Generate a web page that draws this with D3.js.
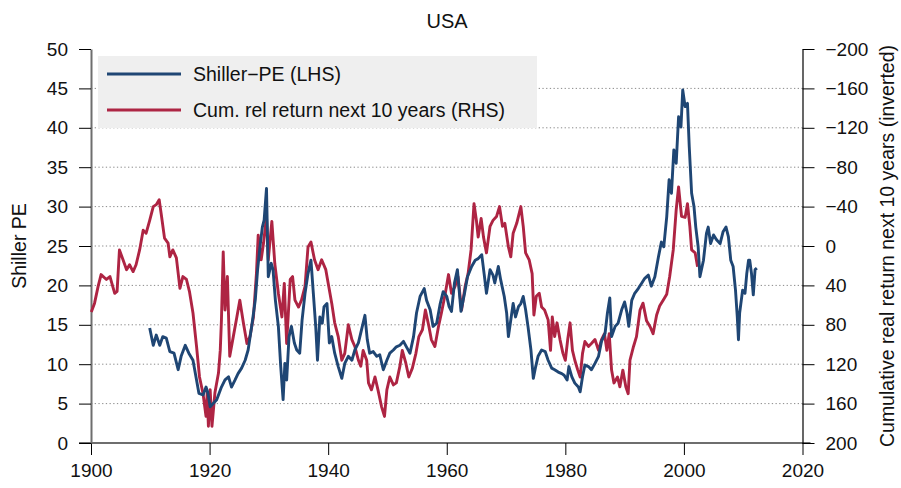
<!DOCTYPE html>
<html>
<head>
<meta charset="utf-8">
<script src="https://cdn.jsdelivr.net/npm/d3@7"></script>
<style type="text/css">
body{
	margin: 0;
	background: #fff;
	font-family: "Liberation Sans", Arial, Helvetica, sans-serif;
}
.axis text{
	font-size: 19px;
	fill: #111;
}
.axis line{
	stroke: #000;
}
.grid line{
	stroke: #8a8a8a;
	stroke-dasharray: 1.3,2.4;
}
path.line{
	fill: none;
	stroke-width: 2.9px;
	stroke-linejoin: round;
}
</style>
</head>
<body>
<div class="viz"></div>
<script type="text/javascript">
// Shiller PE (left axis)
var peYears = [1909.9,1910.5,1911.0,1911.6,1912.1,1912.7,1913.3,1914.0,1914.7,1915.2,1915.9,1916.5,1917.2,1917.8,1918.2,1918.9,1919.4,1919.7,
	1920.1,1920.6,1921.2,1922.0,1922.6,1923.2,1923.7,1924.3,1924.8,1925.4,1926.0,1926.5,1927.1,1927.7,1928.1,1928.5,1928.9,1929.2,1929.6,1929.9,
	1930.4,1930.7,1931.1,1931.6,1932.0,1932.4,1932.7,1933.0,1933.4,1933.8,1934.3,1934.7,1935.2,1935.6,1936.1,1936.6,1937.1,1937.5,1937.9,1938.2,1938.6,1939.0,1939.3,1939.8,
	1940.2,1940.6,1941.1,1941.7,1942.3,1942.8,1943.4,1944.0,1944.5,1945.1,1945.6,1946.2,1946.6,1947.0,1947.6,1948.2,1948.7,1949.3,1949.9,
	1950.4,1951.0,1951.5,1952.1,1952.7,1953.2,1953.8,1954.4,1954.9,1955.5,1956.2,1956.6,1957.2,1957.7,1958.3,1958.9,1959.4,1960.0,
	1960.4,1960.8,1961.3,1961.8,1962.4,1963.0,1963.5,1964.2,1964.8,1965.3,1965.9,1966.3,1966.7,1967.3,1967.8,1968.1,1968.7,1969.1,1969.7,
	1970.1,1970.4,1970.8,1971.2,1971.6,1972.1,1972.5,1972.9,1973.3,1973.7,1974.2,1974.6,1975.0,1975.4,1976.0,1976.6,1977.1,1977.7,1978.2,1978.8,1979.4,1979.8,
	1980.3,1980.6,1981.1,1981.6,1982.2,1982.5,1982.9,1983.3,1983.9,1984.4,1985.0,1985.6,1986.1,1986.7,1987.1,1987.5,1987.8,1988.4,1988.9,1989.5,
	1990.0,1990.4,1990.7,1991.2,1991.7,1992.3,1992.9,1993.4,1994.0,1994.5,1995.1,1995.7,1996.2,1996.6,1997.1,1997.5,1997.9,1998.3,1998.7,1999.1,1999.5,1999.8,
	2000.2,2000.6,2000.9,2001.3,2001.7,2002.0,2002.4,2002.7,2003.3,2003.8,2004.1,2004.5,2005.0,2005.5,2006.1,2006.6,2007.1,2007.5,2007.9,2008.3,2008.7,2009.0,2009.2,2009.4,2009.9,
	2010.3,2010.6,2010.9,2011.1,2011.4,2011.7,2012.0,2012.3];
var peValues = [14.6,12.4,13.7,12.4,13.5,13.3,11.6,11.4,9.3,11.0,12.4,11.4,10.5,8.0,6.3,6.1,7.1,6.4,
	4.6,5.0,5.5,7.1,8.0,8.4,7.1,8.0,8.8,9.5,10.5,11.8,14.8,18.1,22.0,24.9,27.4,28.3,32.3,21.1,
	22.8,22.0,18.1,14.8,9.7,5.5,10.1,8.0,13.5,14.8,12.7,11.8,11.4,15.6,19.0,21.5,23.2,19.0,14.8,10.5,16.0,15.2,17.3,17.7,
	12.7,13.5,11.4,9.7,8.2,10.1,11.0,10.5,11.8,12.7,14.3,16.2,13.1,11.4,11.6,11.0,11.2,9.3,10.5,
	11.4,11.8,12.2,12.4,12.9,12.2,11.4,13.5,16.5,18.6,19.6,18.1,16.9,14.8,15.2,17.7,19.2,18.6,
	17.3,16.7,20.3,22.0,16.7,19.0,21.1,22.4,23.2,23.4,23.9,21.5,19.0,22.0,21.3,20.3,22.4,20.7,18.6,
	16.5,13.5,15.6,17.7,16.0,17.3,17.7,18.6,16.9,14.8,11.8,8.2,9.7,11.0,11.8,11.6,10.5,9.5,9.3,9.0,8.8,8.6,
	8.0,9.7,8.4,7.6,7.1,6.5,8.4,9.9,9.7,9.3,10.1,11.0,12.9,13.9,16.5,18.4,13.5,14.8,15.2,16.9,
	17.9,16.5,14.8,18.1,19.0,19.6,20.3,20.9,21.3,19.9,21.1,23.6,25.5,24.9,28.7,33.4,31.7,37.2,35.5,41.4,40.1,44.8,
	42.7,43.1,37.6,31.7,30.0,27.4,24.9,21.1,23.2,26.6,27.4,25.3,26.4,25.8,25.3,26.8,27.4,26.2,23.2,22.4,19.4,16.0,13.1,16.5,19.4,
	19.0,21.5,23.2,23.2,21.5,18.8,22.0,22.2];

// cumulative real return next 10 years (right axis, inverted)
var retYears = [1900.05,1900.6,1901.2,1901.7,1902.6,1903.2,1904.0,1904.4,1904.8,1905.4,1906.0,1906.5,1907.1,1907.6,1908.2,1908.8,1909.3,1909.9,
	1910.5,1911.0,1911.5,1911.9,1912.4,1913.0,1913.3,1913.8,1914.4,1915.0,1915.5,1916.1,1916.6,1917.2,1917.8,1918.3,1918.9,1919.4,1919.6,1919.8,
	1920.1,1920.4,1920.9,1921.5,1921.8,1922.0,1922.3,1922.6,1923.0,1923.4,1924.0,1924.6,1925.1,1925.7,1926.3,1926.8,1927.4,1927.9,1928.2,1928.7,1929.1,1929.6,1929.9,
	1930.5,1931.0,1931.6,1932.2,1932.6,1933.0,1933.6,1934.0,1934.4,1935.0,1935.5,1936.1,1936.6,1937.1,1937.7,1938.3,1938.9,1939.6,
	1940.1,1940.6,1941.1,1941.7,1942.3,1942.8,1943.4,1944.0,1944.5,1945.1,1945.5,1945.9,1946.5,1946.8,1947.3,1947.9,1948.4,1949.0,1949.5,1949.9,
	1950.4,1951.0,1951.5,1952.1,1952.5,1953.1,1953.6,1954.2,1954.8,1955.3,1955.9,1956.4,1957.0,1957.4,1958.0,1958.6,1959.1,1959.7,
	1960.3,1960.8,1961.4,1961.9,1962.5,1963.1,1963.6,1964.1,1964.6,1965.0,1965.3,1965.8,1966.2,1966.7,1967.3,1967.8,1968.4,1968.9,1969.4,1969.8,
	1970.4,1970.8,1971.2,1971.8,1972.5,1972.9,1973.3,1973.9,1974.4,1974.7,1975.1,1975.6,1976.0,1976.5,1977.1,1977.5,1977.8,1978.2,1978.6,1979.1,1979.6,
	1980.0,1980.4,1980.8,1981.2,1981.6,1982.1,1982.5,1982.9,1983.3,1983.9,1984.4,1985.0,1985.6,1986.1,1986.6,1987.0,1987.4,1987.8,1988.2,1988.8,1989.2,1989.7,
	1990.2,1990.6,1990.9,1991.5,1992.0,1992.6,1993.1,1993.7,1994.3,1994.8,1995.4,1995.9,1996.5,1997.1,1997.6,1998.2,1998.7,1999.1,1999.6,
	2000.2,2000.6,2001.0,2001.3,2001.9,2002.3];
var retValues = [67,58,41,29,34,31,48,46,4,14,24,19,26,19,4,-16,-13,-26,
	-40,-42,-47,-30,-8,-3,11,4,12,43,31,34,46,68,102,133,150,173,149,183,
	146,183,149,129,106,75,6,65,31,112,92,72,55,78,99,92,72,28,-11,14,-3,-30,14,
	-25,18,48,72,38,99,34,31,55,62,55,41,1,-4,14,24,14,24,
	41,58,78,92,116,109,80,95,102,116,122,106,116,139,146,133,146,163,173,146,
	133,141,139,122,106,119,133,124,109,92,85,65,82,95,102,82,68,50,
	29,48,41,31,65,41,28,4,-43,-26,-9,-28,-9,7,-20,-26,-30,-40,-20,-23,
	1,11,-13,-23,-40,-20,7,14,28,70,51,48,62,65,75,106,72,92,78,95,109,
	116,95,78,106,116,126,133,109,97,102,99,95,106,95,89,106,89,126,139,133,143,126,
	143,150,116,102,92,65,58,76,82,89,70,61,55,49,31,4,-37,-60,-30,
	-29,-43,-20,4,7,21];

var leftTicks = [0,5,10,15,20,25,30,35,40,45,50];
var rightTicks = [-200,-160,-120,-80,-40,0,40,80,120,160,200];
var yearTicks = [1900,1920,1940,1960,1980,2000,2020];

var W = 901, H = 488;
var plotL = 91, plotR = 802.5, plotT = 49, plotB = 443;

var svg = d3.select(".viz").append("svg").attr("width", W).attr("height", H);

var x = d3.scaleLinear().domain([1900, 2020]).range([plotL, plotR]);
var yL = d3.scaleLinear().domain([0, 50]).range([plotB, plotT]);
var yR = d3.scaleLinear().domain([200, -200]).range([plotB, plotT]);

function minus(v){ return String(v).replace("-", "\u2212"); }

// dotted grid
svg.append("g").attr("class", "grid").selectAll("line")
	.data(leftTicks.filter(function(d){ return d > 0 && d < 50; }))
	.enter().append("line")
	.attr("x1", plotL).attr("x2", plotR)
	.attr("y1", function(d){ return yL(d); }).attr("y2", function(d){ return yL(d); });

// legend box sits over the grid
var legend = svg.append("g");
legend.append("rect").attr("x", 98).attr("y", 56).attr("width", 439).attr("height", 72).style("fill", "#efefef");
var legItems = [["Shiller\u2212PE (LHS)", "#1f4674"], ["Cum. rel return next 10 years (RHS)", "#ad2544"]];
legItems.forEach(function(d, i){
	var yy = 74 + i * 36;
	legend.append("line").attr("x1", 107).attr("x2", 181).attr("y1", yy).attr("y2", yy)
		.style("stroke", d[1]).style("stroke-width", 2.9);
	legend.append("text").attr("x", 193).attr("y", yy + 7).text(d[0])
		.style("font-size", "19.5px").style("fill", "#111");
});

// axes
var xAxis = svg.append("g").attr("class", "axis").attr("transform", "translate(0," + plotB + ")")
	.call(d3.axisBottom(x).tickValues(yearTicks).tickFormat(d3.format("d")).tickSize(12).tickSizeOuter(0).tickPadding(9));
var lAxis = svg.append("g").attr("class", "axis").attr("transform", "translate(" + plotL + ",0)")
	.call(d3.axisLeft(yL).tickValues(leftTicks).tickSize(12).tickSizeOuter(0).tickPadding(11));
var rAxis = svg.append("g").attr("class", "axis").attr("transform", "translate(" + plotR + ",0)")
	.call(d3.axisRight(yR).tickValues(rightTicks).tickFormat(minus).tickSize(12).tickSizeOuter(0).tickPadding(11));

xAxis.select(".domain").style("stroke", "#6e6e6e").style("stroke-width", 2).attr("d", "M" + (plotL - 12) + ",0H" + (plotR + 8));
lAxis.select(".domain").style("stroke", "#6e6e6e").style("stroke-width", 2);
rAxis.select(".domain").style("stroke", "#000").style("stroke-width", 1.2);

// series
var pe = peYears.map(function(d, i){ return [d, peValues[i]]; });
var ret = retYears.map(function(d, i){ return [d, retValues[i]]; });

svg.append("path").datum(ret).attr("class", "line").style("stroke", "#ae2443")
	.attr("d", d3.line().x(function(d){ return x(d[0]); }).y(function(d){ return yR(d[1]); }));
svg.append("path").datum(pe).attr("class", "line").style("stroke", "#1f4674")
	.attr("d", d3.line().x(function(d){ return x(d[0]); }).y(function(d){ return yL(d[1]); }));

// titles
svg.append("text").attr("x", 447).attr("y", 28).attr("text-anchor", "middle")
	.style("font-size", "20px").style("fill", "#111").text("USA");
svg.append("text").attr("transform", "translate(26," + ((plotT + plotB) / 2) + ") rotate(-90)")
	.attr("text-anchor", "middle").style("font-size", "19.5px").style("fill", "#111").text("Shiller PE");
svg.append("text").attr("transform", "translate(894," + ((plotT + plotB) / 2) + ") rotate(-90)")
	.attr("text-anchor", "middle").style("font-size", "19.5px").style("fill", "#111")
	.text("Cumulative real return next 10 years (inverted)");
</script>
</body>
</html>
